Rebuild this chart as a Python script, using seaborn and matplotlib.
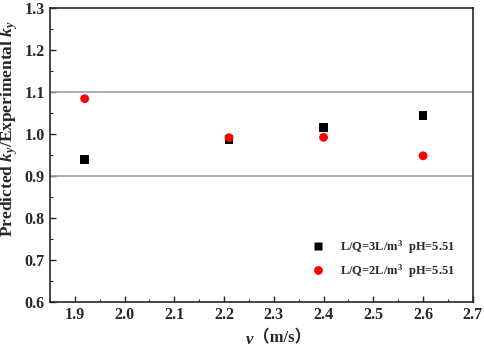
import pandas as pd
import matplotlib
matplotlib.use("Agg")
import matplotlib.pyplot as plt
import seaborn as sns

v = [1.92, 2.21, 2.40, 2.60]
ratio_3 = [0.940, 0.987, 1.015, 1.043]
ratio_2 = [1.084, 0.991, 0.992, 0.948]
labels = ["L/Q=3L/m$^{3}$  pH=5.51", "L/Q=2L/m$^{3}$  pH=5.51"]

df = pd.DataFrame({
    "v": v + v,
    "ratio": ratio_3 + ratio_2,
    "case": [labels[0]] * 4 + [labels[1]] * 4,
})

sns.set_style("ticks", {"xtick.direction": "in", "ytick.direction": "in"})
plt.rcParams["font.family"] = ["Liberation Serif", "Noto Sans CJK SC"]
plt.rcParams["font.weight"] = "bold"
plt.rcParams["mathtext.fontset"] = "custom"
plt.rcParams["mathtext.rm"] = "Liberation Serif:bold"
plt.rcParams["mathtext.it"] = "Liberation Serif:italic:bold"
plt.rcParams["mathtext.bf"] = "Liberation Serif:bold"

fig = plt.figure(figsize=(4.84, 3.47), dpi=100)
ax = fig.add_axes([0.103, 0.130, 0.874, 0.847])

ax.axhline(1.1, color="#a0a0a0", lw=1.2, zorder=1)
ax.axhline(0.9, color="#a0a0a0", lw=1.2, zorder=1)

sns.scatterplot(data=df, x="v", y="ratio", hue="case", style="case",
                palette=["black", "red"], markers=["s", "o"],
                s=40, edgecolor="none", ax=ax, zorder=3)

ax.set_xlim(1.85, 2.7)
ax.set_ylim(0.6, 1.3)
ax.set_xticks([1.9, 2.0, 2.1, 2.2, 2.3, 2.4, 2.5, 2.6, 2.7])
ax.set_yticks([0.6, 0.7, 0.8, 0.9, 1.0, 1.1, 1.2, 1.3])
ax.set_xticks([1.95, 2.05, 2.15, 2.25, 2.35, 2.45, 2.55, 2.65], minor=True)
ax.set_yticks([0.65, 0.75, 0.85, 0.95, 1.05, 1.15, 1.25], minor=True)
ax.tick_params(which="major", length=4, width=1, labelsize=11.5)
ax.tick_params(which="minor", length=2, width=0.8)
for lab in ax.get_xticklabels() + ax.get_yticklabels():
    lab.set_fontweight("bold")
for sp in ax.spines.values():
    sp.set_linewidth(1.2)

ax.set_xlabel("（m/s）", fontsize=12, fontweight="bold")
ax.xaxis.set_label_coords(0.55, -0.098)
ax.annotate("v", xy=(0, 0.45), xycoords=ax.xaxis.label, ha="right",
            va="center", fontsize=12, fontweight="bold", style="italic")
ax.set_ylabel("Predicted $k_y$/Experimental $k_y$", fontsize=12.5,
              fontweight="bold")
ax.yaxis.set_label_coords(-0.07, 0.59)

ax.legend(title=None, frameon=False, loc="lower right",
          bbox_to_anchor=(0.985, 0.036), fontsize=9, handletextpad=0.8,
          labelspacing=0.5, markerscale=1.0)

fig.savefig("out.png", dpi=100)
